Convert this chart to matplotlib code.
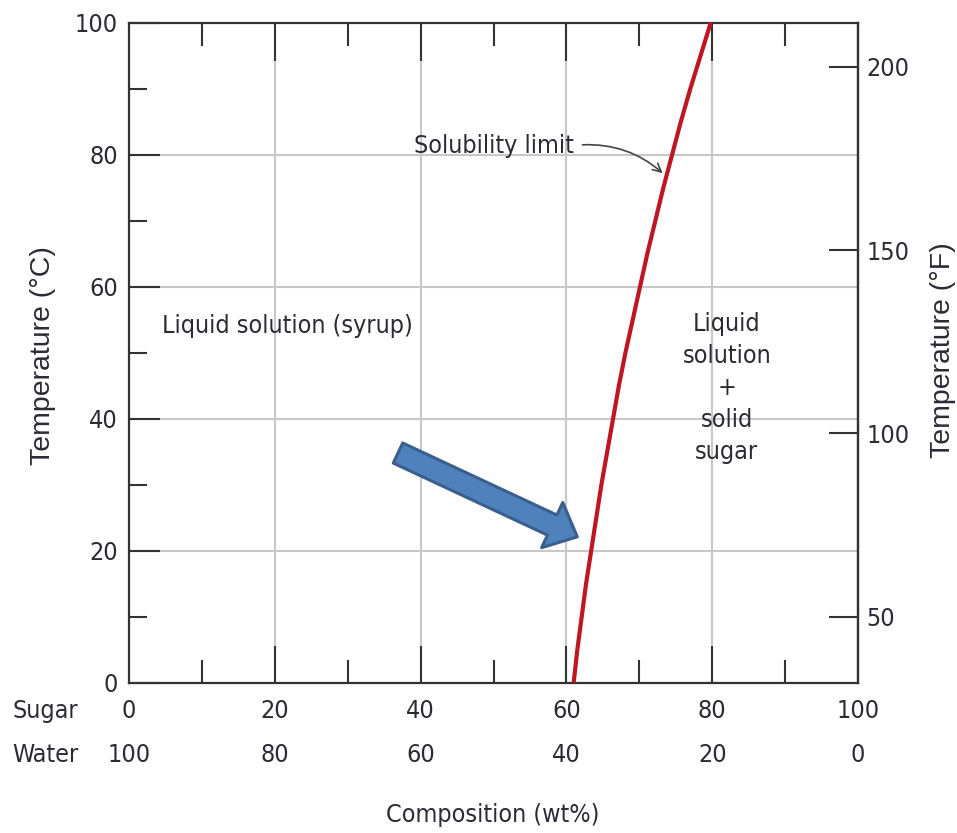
import matplotlib
matplotlib.use("Agg")
import matplotlib.pyplot as plt
import matplotlib.transforms as mtransforms
from matplotlib import font_manager

# ---------------- data ----------------
temps_c = [0, 5, 10, 15, 20, 25, 30, 35, 40, 45, 50,
           55, 60, 65, 70, 75, 80, 85, 90, 95, 100]
sugar_wt = [61.0, 61.5, 62.1, 62.7, 63.4, 64.1, 64.8, 65.6, 66.4, 67.2, 68.1,
            69.1, 70.1, 71.1, 72.2, 73.3, 74.5, 75.7, 77.0, 78.4, 79.8]

sugar_ticks = [0, 20, 40, 60, 80, 100]
water_ticks = [100, 80, 60, 40, 20, 0]
temp_c_ticks = [0, 20, 40, 60, 80, 100]
temp_f_ticks = [50, 100, 150, 200]

# ---------------- fonts ----------------
names = {f.name for f in font_manager.fontManager.ttflist}
if "Liberation Sans Narrow" in names:
    COND = dict(family=["Liberation Sans Narrow", "DejaVu Sans"])
    FS = 21
else:
    COND = dict(family=["DejaVu Sans"], stretch="condensed")
    FS = 18
REG = dict(family=["Liberation Sans", "DejaVu Sans"])

TXT = "#2b2b35"
DARK = "#333333"
GRID = "#c8c8c8"

fig = plt.figure(figsize=(9.57, 8.33), dpi=100)
ax = fig.add_axes([129 / 957, 1 - 682.7 / 833, 729 / 957, 660 / 833])

ax.set_xlim(0, 100)
ax.set_ylim(0, 100)

# grid
for v in [20, 40, 60, 80]:
    ax.axvline(v, color=GRID, lw=1.5, zorder=0)
    ax.axhline(v, color=GRID, lw=1.5, zorder=0)

for s in ax.spines.values():
    s.set_color(DARK)
    s.set_linewidth(1.6)

# x ticks (top and bottom, inward)
ax.set_xticks([20, 40, 60, 80])
ax.set_xticks([10, 30, 50, 70, 90], minor=True)
ax.tick_params(axis="x", which="major", direction="in", top=True, bottom=True,
               length=27, width=1.5, color=DARK, labelbottom=False)
ax.tick_params(axis="x", which="minor", direction="in", top=True, bottom=True,
               length=16.5, width=1.5, color=DARK)

# y ticks (left, inward)
ax.set_yticks(temp_c_ticks)
ax.set_yticks([10, 30, 50, 70, 90], minor=True)
ax.set_yticklabels([str(t) for t in temp_c_ticks], fontsize=FS, color=TXT, **COND)
ax.tick_params(axis="y", which="major", direction="in", left=True, right=False,
               length=22, width=1.5, color=DARK, pad=8)
ax.tick_params(axis="y", which="minor", direction="in", left=True, right=False,
               length=13, width=1.5, color=DARK)

# right axis in Fahrenheit
sec = ax.secondary_yaxis("right", functions=(lambda c: c * 9 / 5 + 32,
                                              lambda f: (f - 32) * 5 / 9))
sec.set_yticks(temp_f_ticks)
sec.set_yticklabels([str(t) for t in temp_f_ticks], fontsize=FS, color=TXT, **COND)
sec.tick_params(axis="y", which="major", direction="in", length=21, width=1.5,
                color=DARK, pad=6)
sec.tick_params(axis="y", which="minor", length=0)
sec.spines["right"].set_color(DARK)
sec.spines["right"].set_linewidth(1.6)

# bottom two-row composition labels
trans = mtransforms.blended_transform_factory(ax.transData, ax.transAxes)
for s, w in zip(sugar_ticks, water_ticks):
    ax.text(s, -0.043, str(s), transform=trans, ha="center", va="center",
            fontsize=FS, color=TXT, **COND)
    ax.text(s, -0.1095, str(w), transform=trans, ha="center", va="center",
            fontsize=FS, color=TXT, **COND)
fig.text(12 / 957, 1 - 711 / 833, "Sugar", ha="left", va="center",
         fontsize=FS, color=TXT, **COND)
fig.text(12 / 957, 1 - 755 / 833, "Water", ha="left", va="center",
         fontsize=FS, color=TXT, **COND)
fig.text(493 / 957, 1 - 815 / 833, "Composition (wt%)", ha="center", va="center",
         fontsize=FS, color=TXT, **COND)

# axis titles
fig.text(43 / 957, 1 - 356 / 833, "Temperature (°C)", rotation=90, ha="center",
         va="center", fontsize=20.5, color=TXT, **REG)
fig.text(943 / 957, 1 - 350 / 833, "Temperature (°F)", rotation=90, ha="center",
         va="center", fontsize=20.5, color=TXT, **REG)

# solubility curve
ax.plot(sugar_wt, temps_c, color="#be1622", lw=3, solid_capstyle="butt",
        solid_joinstyle="round", zorder=3, clip_on=False)

# region labels
ax.text(21.8, 54.0, "Liquid solution (syrup)", ha="center", va="center",
        fontsize=FS, color=TXT, **COND)
ax.text(82.0, 44.6, "Liquid\nsolution\n+\nsolid\nsugar", ha="center", va="center",
        fontsize=FS, color=TXT, linespacing=1.42, **COND)
ax.text(50.0, 81.3, "Solubility limit", ha="center", va="center",
        fontsize=FS, color=TXT, **COND)
ax.annotate("", xy=(73.2, 77.2), xytext=(62.2, 81.5),
            arrowprops=dict(arrowstyle="->,head_length=0.6,head_width=0.3",
                            color="#444444", lw=1.2,
                            connectionstyle="arc3,rad=-0.2",
                            shrinkA=0, shrinkB=0))

# blue block arrow
ax.annotate("", xy=(61.5, 22.1), xytext=(36.9, 34.8),
            arrowprops=dict(arrowstyle="simple,head_length=1.0,head_width=1.8,tail_width=0.8",
                            fc="#4f81bd", ec="#3a5f8c", lw=2.2,
                            shrinkA=0, shrinkB=0, mutation_scale=20),
            zorder=4)

fig.savefig("out.png", dpi=100)
